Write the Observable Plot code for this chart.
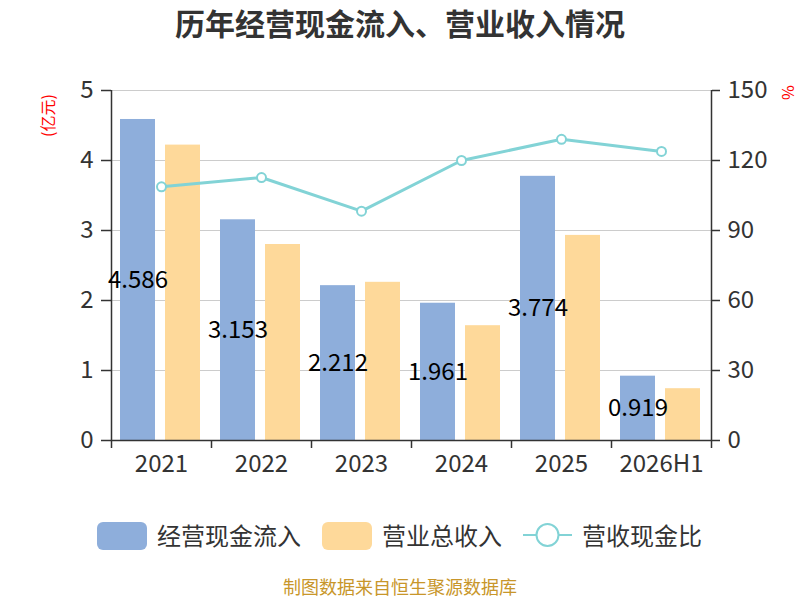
<!DOCTYPE html>
<html>
<head>
<meta charset="utf-8">
<script src="https://cdn.jsdelivr.net/npm/d3@7"></script>
<script src="https://cdn.jsdelivr.net/npm/@observablehq/plot@0.6"></script>
<style>
  body { margin: 0; background: #fff; font-family: "Noto Sans CJK SC", "Noto Sans", sans-serif; }
  #wrap { position: relative; width: 800px; height: 600px; overflow: hidden; }
  #title { height: 50px; line-height: 44px; text-align: center; font-size: 30px; font-weight: bold; color: #333; }
  .lg { position: absolute; }
  .sw { position: absolute; width: 50px; height: 28px; border-radius: 6px; top: 522px; }
  .lt { position: absolute; top: 519px; font-size: 24px; line-height: 32px; color: #333; white-space: nowrap; }
  #caption { position: absolute; left: 0; width: 800px; top: 576px; text-align: center; font-size: 18px; line-height: 20px; color: #c8962a; }
</style>
</head>
<body>
<div id="wrap">
  <div id="title">历年经营现金流入、营业收入情况</div>
  <div id="chart"></div>
  <div class="sw" style="left:97px;background:#8eaedb"></div>
  <div class="lt" style="left:157px">经营现金流入</div>
  <div class="sw" style="left:322px;background:#fed99a"></div>
  <div class="lt" style="left:382px">营业总收入</div>
  <svg class="lg" style="left:520px;top:520px" width="56" height="30">
    <line x1="3" y1="15" x2="52" y2="15" stroke="#82d3d6" stroke-width="2"/>
    <circle cx="27.5" cy="15" r="11" fill="#fff" stroke="#82d3d6" stroke-width="2"/>
  </svg>
  <div class="lt" style="left:582px">营收现金比</div>
  <div id="caption">制图数据来自恒生聚源数据库</div>
</div>
<script>
const years = ["2021", "2022", "2023", "2024", "2025", "2026H1"];
const cashInflow = [4.586, 3.153, 2.212, 1.961, 3.774, 0.919];
const revenue = [4.22, 2.80, 2.26, 1.64, 2.93, 0.74];
const ratio = [108.7, 112.7, 98.3, 120.0, 129.1, 123.9];
const leftTicks = [0, 1, 2, 3, 4, 5];
const rightTicks = [0, 30, 60, 90, 120, 150];
const rightMax = 150, leftMax = 5;

const rows = years.map((y, i) => ({year: y, cash: cashInflow[i], rev: revenue[i], ratio: ratio[i]}));
const k = leftMax / rightMax;
const tickFont = 24;

const chart = Plot.plot({
  width: 800,
  height: 440,
  marginTop: 40,
  marginBottom: 50,
  marginLeft: 111,
  marginRight: 89,
  style: {fontFamily: "Noto Sans CJK SC, Noto Sans, sans-serif", background: "#fff"},
  x: {type: "band", domain: years, padding: 0},
  y: {domain: [0, leftMax]},
  marks: [
    Plot.ruleY(leftTicks.filter(d => d > 0), {stroke: "#cccccc", strokeWidth: 1}),
    Plot.barY(rows, {x: "year", y: "cash", fill: "#8eaedb", insetLeft: 9, insetRight: 56}),
    Plot.barY(rows, {x: "year", y: "rev", fill: "#fed99a", insetLeft: 54, insetRight: 11}),
    Plot.ruleY([0], {stroke: "#333", strokeWidth: 1.5}),
    Plot.ruleX([years[0]], {x: d => d, dx: -50, y1: 0, y2: leftMax, stroke: "#333", strokeWidth: 1.5}),
    Plot.ruleX([years[years.length - 1]], {x: d => d, dx: 50, y1: 0, y2: leftMax, stroke: "#333", strokeWidth: 1.5}),
    Plot.ruleX(years, {x: d => d, dx: -50, y1: 0, y2: -8 / 70, stroke: "#333", strokeWidth: 1.5}),
    Plot.ruleX([years[years.length - 1]], {x: d => d, dx: 50, y1: 0, y2: -8 / 70, stroke: "#333", strokeWidth: 1.5}),
    Plot.axisY(leftTicks, {anchor: "left", tickSize: 10, tickPadding: 8, fontSize: tickFont, color: "#333", strokeWidth: 1.5, tickFormat: d => String(d), label: null}),
    Plot.axisY(rightTicks.map(d => d * k), {anchor: "right", tickSize: 8, tickPadding: 8, fontSize: tickFont, color: "#333", strokeWidth: 1.5, tickFormat: d => String(Math.round(d / k)), label: null}),
    Plot.axisX({tickSize: 0, tickPadding: 14, fontSize: tickFont, color: "#333", label: null}),
    Plot.line(rows, {x: "year", y: d => d.ratio * k, stroke: "#82d3d6", strokeWidth: 3}),
    Plot.dot(rows, {x: "year", y: d => d.ratio * k, r: 4.5, fill: "#fff", stroke: "#82d3d6", strokeWidth: 2}),
    Plot.text(rows, {x: "year", y: d => d.cash / 2, text: d => d.cash.toFixed(3), dx: -23.5, fontSize: 24, fill: "#000"}),
    Plot.text(["(亿元)"], {frameAnchor: "top-left", dx: -63, dy: 25, rotate: -90, fill: "red", fontSize: 16, textAnchor: "middle", lineAnchor: "middle"}),
    Plot.text(["%"], {frameAnchor: "top-right", dx: 76, dy: 2, rotate: 90, fill: "red", fontSize: 16, textAnchor: "middle", lineAnchor: "middle"})
  ]
});
document.getElementById("chart").appendChild(chart);
</script>
</body>
</html>
